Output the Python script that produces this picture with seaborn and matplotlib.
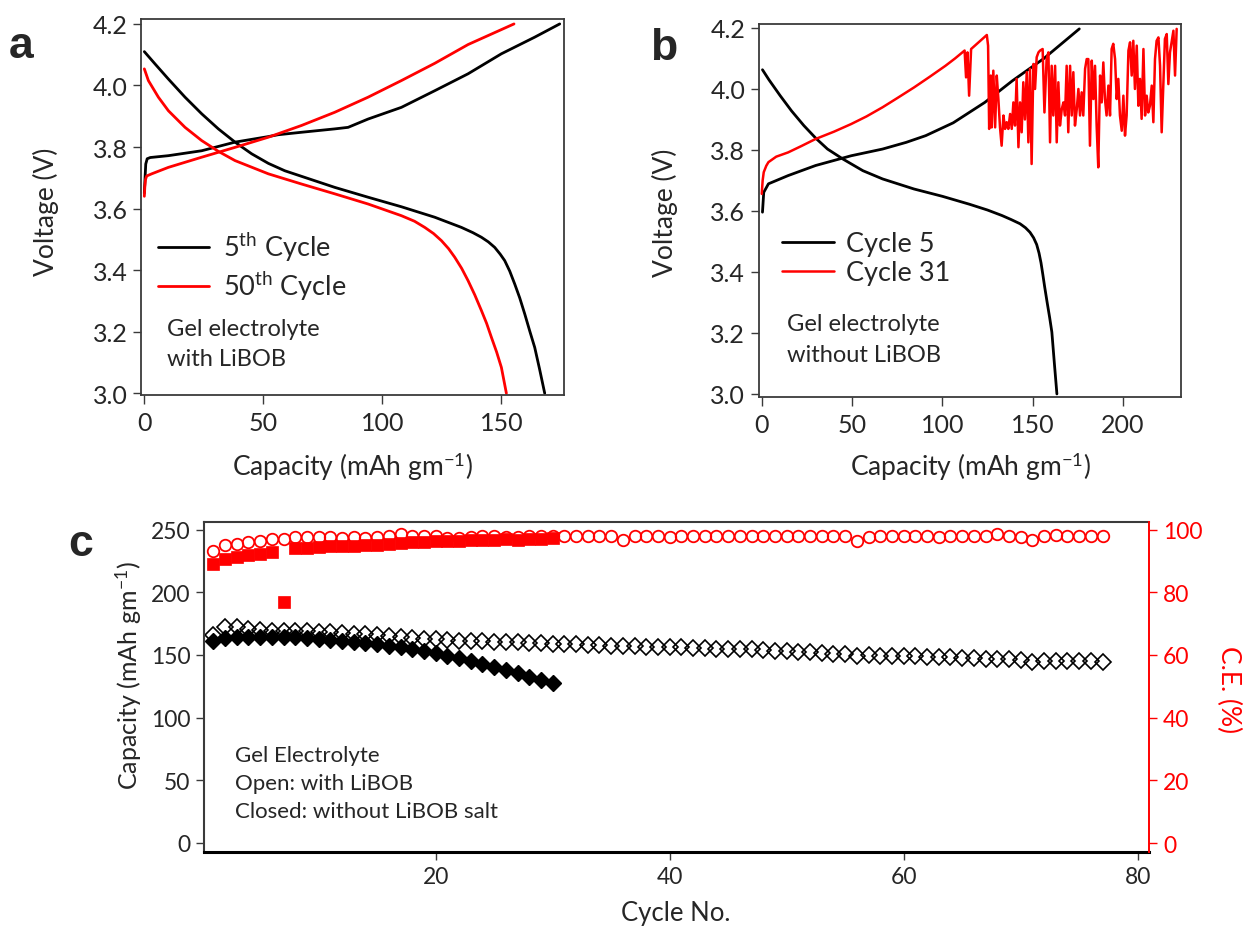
import matplotlib
matplotlib.use("Agg")
import matplotlib.pyplot as plt
import seaborn as sns

# ---------------- panel a: gel electrolyte with LiBOB ----------------
a5_dis_cap = [0, 4.5, 10.1, 17.1, 24.1, 31.1, 38.1, 45.1, 52.1, 59.0, 66.0, 80.0, 94.0,
              108.0, 122.0, 133.2, 138.0, 141.6, 144.5, 147.2, 149.5, 151.4, 153.5, 155.6,
              157.7, 159.8, 162.0, 164.0, 166.0, 168.2]
a5_dis_v = [4.110, 4.070, 4.021, 3.962, 3.908, 3.859, 3.816, 3.778, 3.747, 3.723, 3.705, 3.669,
            3.637, 3.606, 3.572, 3.539, 3.522, 3.507, 3.492, 3.474, 3.452, 3.431, 3.397, 3.355,
            3.310, 3.258, 3.200, 3.149, 3.080, 3.000]
a5_chg_cap = [0.0, 0.3, 0.6, 1.2, 2.5, 10.1, 24.1, 38.1, 52.1, 56.2, 66.0, 80.0, 85.6, 94.0,
              108.0, 122.0, 136.0, 150.0, 164.0, 174.5]
a5_chg_v = [3.650, 3.700, 3.745, 3.762, 3.766, 3.772, 3.788, 3.816, 3.834, 3.840, 3.848, 3.859,
            3.864, 3.891, 3.929, 3.983, 4.038, 4.103, 4.157, 4.200]
a50_dis_cap = [0, 1.7, 5.9, 10.1, 17.1, 24.1, 31.1, 38.1, 52.1, 66.0, 80.0, 94.0, 108.0, 113.5,
               117.8, 121.5, 124.8, 127.8, 130.4, 133.3, 136.0, 138.8, 141.6, 143.8, 145.8,
               148.0, 150.0, 152.1]
a50_dis_v = [4.054, 4.016, 3.962, 3.918, 3.864, 3.821, 3.786, 3.756, 3.713, 3.680, 3.648, 3.615,
             3.577, 3.559, 3.539, 3.519, 3.496, 3.470, 3.442, 3.406, 3.366, 3.320, 3.269, 3.227,
             3.182, 3.134, 3.084, 3.000]
a50_chg_cap = [0.0, 0.2, 0.5, 1.0, 3.1, 10.1, 24.1, 38.1, 52.1, 66.0, 80.0, 94.0, 108.0, 122.0,
               136.0, 155.3]
a50_chg_v = [3.640, 3.670, 3.695, 3.706, 3.713, 3.734, 3.767, 3.799, 3.832, 3.870, 3.913, 3.962,
             4.016, 4.072, 4.133, 4.200]

# ---------------- panel b: gel electrolyte without LiBOB ----------------
b5_dis_cap = [0.4, 4.0, 10.2, 16.5, 23.3, 30.0, 36.4, 45.0, 56.0, 66.9, 84.3, 100.0, 115.0,
              125.0, 133.0, 138.0, 143.0, 146.0, 148.5, 150.5, 152.2, 153.5, 154.6, 155.6,
              156.6, 158.0, 159.4, 160.6, 162.0, 163.4]
b5_dis_v = [4.063, 4.030, 3.978, 3.928, 3.880, 3.838, 3.803, 3.770, 3.732, 3.705, 3.672, 3.648,
            3.622, 3.603, 3.585, 3.572, 3.558, 3.545, 3.530, 3.512, 3.490, 3.462, 3.430, 3.392,
            3.352, 3.300, 3.250, 3.203, 3.100, 3.000]
b5_chg_cap = [0.4, 1.1, 3.7, 14.6, 29.8, 49.5, 66.9, 80.0, 90.8, 106.0, 123.5, 138.8, 156.2, 175.8]
b5_chg_v = [3.596, 3.661, 3.689, 3.716, 3.749, 3.781, 3.803, 3.825, 3.847, 3.889, 3.956, 4.027,
            4.100, 4.197]
b31_chg_cap = [0.0, 0.5, 1.1, 2.5, 3.7, 8.0, 14.6, 22.0, 29.8, 40.0, 49.5, 58.0, 66.9, 75.0,
               84.3, 93.0, 101.7, 107.0, 112.3, 113.1, 113.9, 114.8, 115.9, 124.6, 125.3, 125.9,
               126.8,
               127.3, 128.2, 129.2, 130.1, 131.0, 131.9, 132.8, 133.8, 134.7, 135.6, 136.5, 137.5,
               138.4, 139.3, 140.2, 141.1, 142.1, 143.0, 143.9, 144.8, 145.7, 146.7, 147.6, 148.5,
               149.4, 150.4, 151.3, 152.2, 153.2, 154.1, 155.5, 156.5, 157.7, 158.7, 159.6, 160.5,
               161.4, 162.4, 163.3, 164.2, 165.1, 166.1, 167.0, 167.9, 168.8, 169.7, 170.7, 171.6,
               172.5, 173.4, 174.4, 175.3, 176.2, 177.1, 178.0, 179.0, 179.9, 180.8, 181.7, 182.7,
               183.6, 184.5, 185.4, 186.3, 187.3, 188.2, 189.1, 190.0, 190.9, 191.9, 192.8, 193.7,
               194.6, 195.6, 196.5, 197.4, 198.3, 199.3, 200.2, 201.1, 202.0, 203.0, 203.9, 204.8,
               205.7, 206.6, 207.6, 208.5, 209.4, 210.3, 211.3, 212.2, 213.1, 214.0, 214.9, 215.9,
               216.8, 217.7, 218.6, 219.6, 220.5, 221.4, 222.3, 223.2, 224.2, 225.1, 226.0, 226.9,
               227.9, 228.8, 229.7]
b31_chg_v = [3.656, 3.700, 3.727, 3.748, 3.760, 3.778, 3.792, 3.813, 3.836, 3.860, 3.885, 3.910,
             3.940, 3.970, 4.005, 4.040, 4.076, 4.100, 4.126, 4.038, 4.120, 3.978, 4.131, 4.177,
             4.142, 3.869, 4.044,
             3.874, 4.060, 3.874, 4.044, 3.967, 3.874, 3.814, 3.913, 3.869, 3.891, 3.869, 3.918,
             3.869, 3.956, 3.880, 4.033, 3.809, 3.956, 3.858, 4.022, 3.900, 4.055, 3.825, 4.066,
             3.754, 4.082, 4.000, 4.104, 4.120, 4.126, 4.131, 3.923, 4.098, 4.120, 3.825, 4.076,
             3.913, 4.076, 3.825, 4.022, 3.880, 3.934, 3.956, 3.913, 4.076, 3.858, 4.076, 3.913,
             4.055, 3.880, 3.934, 4.000, 3.913, 3.989, 3.913, 4.066, 4.098, 4.098, 3.814, 4.093,
             3.967, 4.076, 3.880, 3.743, 4.044, 3.956, 4.087, 3.967, 3.913, 4.011, 3.913, 4.131,
             4.148, 4.098, 3.967, 4.033, 3.913, 3.863, 3.978, 3.847, 3.913, 4.126, 4.153, 4.044,
             4.158, 4.000, 4.142, 3.945, 4.033, 3.902, 4.131, 3.913, 3.978, 3.923, 3.945, 4.011,
             3.891, 4.098, 4.158, 4.169, 4.076, 3.858, 4.011, 4.164, 4.180, 4.016, 4.120, 4.153,
             4.191, 4.044, 4.197]

# ---------------- panel c: cycling ----------------
open_cycle = list(range(1, 78))
open_capacity = [166, 172.5, 172.5, 171, 170, 169.4, 169.4, 169.4, 169, 168.5,
                 168, 167.5, 167, 166.5, 166, 165.5, 164.5, 163.5, 163, 162.5,
                 162, 161.5, 161, 161, 160.5, 160, 160, 159.5, 159.5, 159,
                 158.5, 158.5, 158, 158, 157.5, 157, 157, 156.5, 156.5, 156,
                 156, 155.5, 155.5, 155, 155, 154.5, 154.5, 154, 153.5, 153,
                 152.5, 152, 151.5, 151, 150.5, 149, 150, 149.5, 149.5, 149,
                 149, 148.5, 148, 148, 147.5, 147.5, 147, 146.5, 146.5, 146,
                 144, 145.5, 145.5, 145, 145, 145, 144.5]
open_ce = [93.3, 95.1, 95.4, 96.2, 96.5, 97.0, 97.0, 97.6, 97.6, 97.6,
           97.6, 97.4, 97.6, 97.4, 97.6, 97.9, 98.6, 98.0, 98.0, 97.9,
           97.3, 97.4, 97.8, 97.9, 98.0, 97.8, 97.8, 98.0, 97.9, 97.9,
           98.0, 97.9, 97.9, 98.0, 97.9, 96.8, 97.9, 98.1, 97.9, 97.8,
           97.9, 98.0, 97.9, 97.9, 97.9, 98.0, 98.0, 97.9, 97.9, 98.0,
           97.9, 97.9, 97.9, 98.0, 97.9, 96.4, 97.8, 98.0, 98.0, 98.1,
           97.9, 98.0, 97.6, 98.0, 98.0, 98.0, 97.9, 98.6, 98.0, 97.8,
           96.8, 98.0, 98.2, 98.0, 97.9, 98.0, 98.0]
closed_cycle = list(range(1, 31))
closed_capacity = [161.4, 163.3, 164, 164, 164, 164, 164.5, 164, 163.5, 163,
                   162.3, 161.4, 160.6, 159.8, 158.8, 157.5, 156.2, 154.8, 153.2, 151.5,
                   149.5, 147.2, 145, 142.8, 140.3, 138.2, 135.5, 132.8, 130, 127.5]
closed_ce = [89.1, 90.6, 91.4, 91.9, 92.3, 93.0, 77.0, 94.0, 94.3, 94.5,
             94.7, 94.8, 94.9, 95.0, 95.0, 95.5, 95.8, 95.9, 96.1, 96.3,
             96.4, 96.3, 96.6, 96.8, 96.7, 96.9, 96.8, 96.9, 97.1, 97.4]

volt_ticks = [3.0, 3.2, 3.4, 3.6, 3.8, 4.0, 4.2]
cap_ticks_a = [0, 50, 100, 150]
cap_ticks_b = [0, 50, 100, 150, 200]
cycle_ticks = [20, 40, 60, 80]
capacity_ticks = [0, 50, 100, 150, 200, 250]
ce_ticks = [0, 20, 40, 60, 80, 100]

# ---------------- styling ----------------
sns.set_style("ticks")
plt.rcParams["font.family"] = ["Lato", "DejaVu Sans"]
plt.rcParams["mathtext.fontset"] = "custom"
plt.rcParams["mathtext.rm"] = "Lato"
plt.rcParams["mathtext.it"] = "Lato:italic"
plt.rcParams["mathtext.bf"] = "Lato:bold"

W, H = 1255, 928
RED = "#ff0000"
FRAME = "#3a3a3a"
fig = plt.figure(figsize=(W / 100, H / 100), dpi=100)
fig.patch.set_facecolor("white")


def box(l, t, r, b):
    return [l / W, 1 - b / H, (r - l) / W, (b - t) / H]


def frame(ax, lw=1.3):
    for s in ax.spines.values():
        s.set_visible(True)
        s.set_color(FRAME)
        s.set_linewidth(lw)


def ftext(px, py, s, **kw):
    fig.text(px / W, 1 - py / H, s, **kw)


cap_label = r"Capacity (mAh gm$^{\mathrm{-1}}$)"

# ---- panel a ----
axa = fig.add_axes(box(141, 20, 564, 396))
sns.lineplot(x=a5_dis_cap, y=a5_dis_v, ax=axa, color="black", lw=2.0, sort=False,
             estimator=None, label=r"5$^{\mathrm{th}}$ Cycle")
sns.lineplot(x=a5_chg_cap, y=a5_chg_v, ax=axa, color="black", lw=2.0, sort=False,
             estimator=None)
sns.lineplot(x=a50_dis_cap, y=a50_dis_v, ax=axa, color=RED, lw=2.0, sort=False,
             estimator=None, label=r"50$^{\mathrm{th}}$ Cycle")
sns.lineplot(x=a50_chg_cap, y=a50_chg_v, ax=axa, color=RED, lw=2.0, sort=False,
             estimator=None)
axa.set_xlim(-1.4, 176.3)
axa.set_ylim(2.9945, 4.216)
axa.set_xticks(cap_ticks_a)
axa.set_yticks(volt_ticks)
axa.set_yticklabels([f"{v:.1f}" for v in volt_ticks])
axa.legend(loc="center left", bbox_to_anchor=(0.04, 0.342), frameon=False,
           fontsize=19.5, handlelength=1.9, handletextpad=0.5, borderpad=0,
           borderaxespad=0, labelspacing=0.22)
axa.text(0.061, 0.178, "Gel electrolyte", transform=axa.transAxes, fontsize=17,
         va="center", ha="left")
axa.text(0.061, 0.098, "with LiBOB", transform=axa.transAxes, fontsize=17,
         va="center", ha="left")

# ---- panel b ----
axb = fig.add_axes(box(758.5, 25, 1181, 397.7))
sns.lineplot(x=b5_dis_cap, y=b5_dis_v, ax=axb, color="black", lw=2.0, sort=False,
             estimator=None, label="Cycle 5")
sns.lineplot(x=b5_chg_cap, y=b5_chg_v, ax=axb, color="black", lw=2.0, sort=False,
             estimator=None)
sns.lineplot(x=b31_chg_cap, y=b31_chg_v, ax=axb, color=RED, lw=1.8, sort=False,
             estimator=None, label="Cycle 31")
axb.set_xlim(-1.8, 232.1)
axb.set_ylim(2.991, 4.213)
axb.set_xticks(cap_ticks_b)
axb.set_yticks(volt_ticks)
axb.set_yticklabels([f"{v:.1f}" for v in volt_ticks])
axb.legend(loc="center left", bbox_to_anchor=(0.056, 0.372), frameon=False,
           fontsize=19.5, handlelength=1.9, handletextpad=0.45, borderpad=0,
           borderaxespad=0, labelspacing=0.15)
axb.text(0.068, 0.196, "Gel electrolyte", transform=axb.transAxes, fontsize=17,
         va="center", ha="left")
axb.text(0.068, 0.113, "without LiBOB", transform=axb.transAxes, fontsize=17,
         va="center", ha="left")

for ax in (axa, axb):
    frame(ax)
    ax.set_xlabel("")
    ax.set_ylabel("")
    ax.tick_params(axis="both", direction="out", length=5.5, width=1.0, color=FRAME,
                   labelsize=18, pad=4)
    ax.tick_params(axis="x", length=6.5, pad=5)

ftext(352, 476, cap_label, fontsize=19, ha="center", va="baseline")
ftext(970, 476, cap_label, fontsize=19, ha="center", va="baseline")
ftext(46, 212, "Voltage (V)", fontsize=19, ha="center", va="center", rotation=90)
ftext(665, 213, "Voltage (V)", fontsize=19, ha="center", va="center", rotation=90)
ftext(9, 58, "a", fontsize=32, fontweight="bold", family="Liberation Sans", va="baseline")
ftext(650, 60, "b", fontsize=32, fontweight="bold", family="Liberation Sans", va="baseline")
ftext(68, 556, "c", fontsize=32, fontweight="bold", family="Liberation Sans", va="baseline")

# ---- panel c ----
axc = fig.add_axes(box(204.3, 522.5, 1149, 853))
axr = axc.twinx()
sns.lineplot(x=open_cycle, y=open_capacity, ax=axc, linestyle="", marker="D",
             markersize=7.8, markerfacecolor="none", markeredgecolor="black",
             markeredgewidth=1.2, color="black", estimator=None)
sns.lineplot(x=closed_cycle, y=closed_capacity, ax=axc, linestyle="", marker="D",
             markersize=7.8, markerfacecolor="black", markeredgecolor="black",
             markeredgewidth=1.0, color="black", estimator=None)
sns.lineplot(x=open_cycle, y=open_ce, ax=axr, linestyle="", marker="o",
             markersize=8.3, markerfacecolor="none", markeredgecolor=RED,
             markeredgewidth=1.3, color=RED, estimator=None)
sns.lineplot(x=closed_cycle, y=closed_ce, ax=axr, linestyle="", marker="s",
             markersize=8.4, markerfacecolor=RED, markeredgecolor=RED,
             markeredgewidth=0.5, color=RED, estimator=None)
axc.set_xlim(0.23, 80.97)
axc.set_ylim(-7.2, 256.5)
axr.set_ylim(-2.87, 102.6)
axc.set_xticks(cycle_ticks)
axc.set_yticks(capacity_ticks)
axr.set_yticks(ce_ticks)
axc.set_xlabel("")
axc.set_ylabel("")
axr.set_ylabel("")
for s in axc.spines.values():
    s.set_visible(True)
    s.set_color(FRAME)
    s.set_linewidth(1.5)
axc.spines["bottom"].set_color("black")
axc.spines["bottom"].set_linewidth(2.2)
axr.spines["right"].set_color(RED)
axr.spines["right"].set_linewidth(1.4)
for s in ("left", "top", "bottom"):
    axr.spines[s].set_visible(False)
axc.spines["right"].set_visible(False)
axc.tick_params(axis="both", direction="out", length=6, width=1.0, color=FRAME,
                labelsize=16.5, pad=4)
axr.tick_params(axis="y", direction="out", length=6, width=1.0, color=RED,
                labelcolor=RED, labelsize=16.5, pad=4)
axc.text(0.032, 0.293, "Gel Electrolyte", transform=axc.transAxes, fontsize=16,
         va="center", ha="left")
axc.text(0.032, 0.209, "Open: with LiBOB", transform=axc.transAxes, fontsize=16,
         va="center", ha="left")
axc.text(0.032, 0.124, "Closed: without LiBOB salt", transform=axc.transAxes,
         fontsize=16, va="center", ha="left")
ftext(676, 921, "Cycle No.", fontsize=18.5, ha="center", va="baseline")
ftext(129, 676, cap_label, fontsize=18, ha="center", va="center", rotation=90)
ftext(1229, 690, "C.E. (%)", fontsize=19, ha="center", va="center", rotation=270,
      color=RED)

fig.savefig("out.png", dpi=100, facecolor="white")
